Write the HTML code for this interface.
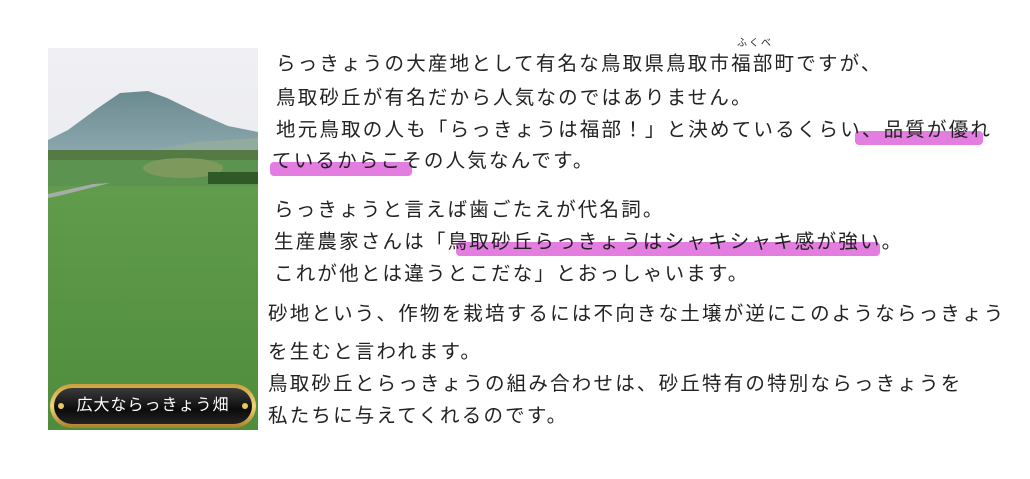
<!DOCTYPE html>
<html><head><meta charset="utf-8"><style>
body{margin:0;width:1030px;height:479px;background:#fff;position:relative;overflow:hidden;font-family:"Liberation Sans","Noto Sans CJK JP",sans-serif;}
.t{position:absolute;font-size:19.5px;letter-spacing:2.2px;color:#222;white-space:nowrap;line-height:24px;}
.hl{position:absolute;background:#e47de0;border-radius:4px;height:14px;}
</style></head><body>
<svg style="position:absolute;left:48px;top:48px" width="210" height="382">
<defs><linearGradient id="s" x1="0" y1="0" x2="0" y2="1"><stop offset="0" stop-color="#f0f0f4"/><stop offset="1" stop-color="#dfe3e4"/></linearGradient>
<linearGradient id="m" x1="0" y1="0" x2="0" y2="1"><stop offset="0" stop-color="#6b8a90"/><stop offset="1" stop-color="#8eaab0"/></linearGradient>
<linearGradient id="g" x1="0" y1="0" x2="0" y2="1"><stop offset="0" stop-color="#609c4c"/><stop offset="1" stop-color="#4f8c3c"/></linearGradient></defs>
<rect width="210" height="382" fill="url(#s)"/>
<path d="M0,92 L20,82 L50,60 L72,45 L100,43 L119,50 L150,65 L180,78 L210,84 L210,110 L0,110Z" fill="url(#m)"/>
<path d="M80,106 L150,94 L210,90 L210,112Z" fill="#93ab9c"/>
<rect y="102" width="210" height="12" fill="#557a44"/>
<rect y="112" width="210" height="30" fill="#5c9350"/>
<ellipse cx="135" cy="120" rx="40" ry="10" fill="#7d9a5c"/>
<rect x="160" y="124" width="50" height="12" fill="#2f5a28"/>
<rect y="138" width="210" height="244" fill="url(#g)"/>
<path d="M0,146 L45,136 L62,135 L10,148 L0,150Z" fill="#a8aba8"/>
</svg>
<div style="position:absolute;left:50px;top:384px;width:206px;height:44px;border-radius:22px;background:linear-gradient(#c9a040,#f0d57a,#a8802a);"></div>
<div style="position:absolute;left:54px;top:388px;width:198px;height:36px;border-radius:18px;background:linear-gradient(#3a3a3a,#0c0c0c 60%,#222);color:#fff;font-size:16px;line-height:36px;text-align:center;letter-spacing:1px;">広大ならっきょう畑</div>
<div style="position:absolute;left:58px;top:403px;width:6px;height:6px;border-radius:3px;background:#e8c860"></div>
<div style="position:absolute;left:242px;top:403px;width:6px;height:6px;border-radius:3px;background:#e8c860"></div>
<div class="hl" style="left:855px;top:131px;width:128px"></div>
<div class="hl" style="left:270px;top:162px;width:142px"></div>
<div class="hl" style="left:456px;top:242px;width:424px"></div>
<div class="t" style="left:737px;top:32px;font-size:10px;letter-spacing:2px">ふくべ</div>
<div class="t" style="left:276px;top:52px">らっきょうの大産地として有名な鳥取県鳥取市福部町ですが、</div>
<div class="t" style="left:276px;top:86px">鳥取砂丘が有名だから人気なのではありません。</div>
<div class="t" style="left:276px;top:118px">地元鳥取の人も「らっきょうは福部！」と決めているくらい、品質が優れ</div>
<div class="t" style="left:272px;top:149px">ているからこその人気なんです。</div>
<div class="t" style="left:274px;top:198px">らっきょうと言えば歯ごたえが代名詞。</div>
<div class="t" style="left:274px;top:230px">生産農家さんは「鳥取砂丘らっきょうはシャキシャキ感が強い。</div>
<div class="t" style="left:274px;top:262px">これが他とは違うとこだな」とおっしゃいます。</div>
<div class="t" style="left:268px;top:302px">砂地という、作物を栽培するには不向きな土壌が逆にこのようならっきょう</div>
<div class="t" style="left:268px;top:340px">を生むと言われます。</div>
<div class="t" style="left:268px;top:372px">鳥取砂丘とらっきょうの組み合わせは、砂丘特有の特別ならっきょうを</div>
<div class="t" style="left:268px;top:404px">私たちに与えてくれるのです。</div>
</body></html>
